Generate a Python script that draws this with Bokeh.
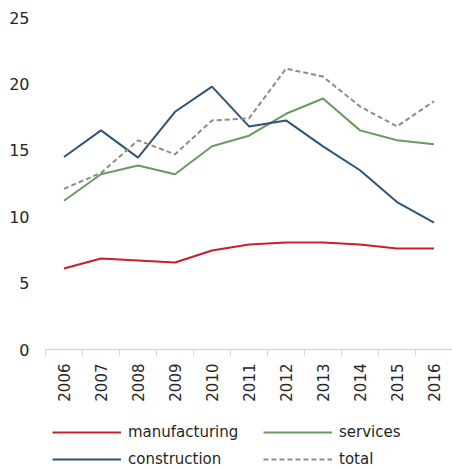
import numpy as np
from bokeh.plotting import figure
from bokeh.layouts import column
from bokeh.models import FixedTicker, Legend, LegendItem, Range1d
from bokeh.embed import file_html
from bokeh.resources import INLINE

years = [2006, 2007, 2008, 2009, 2010, 2011, 2012, 2013, 2014, 2015, 2016]
manufacturing = [6.1, 6.85, 6.7, 6.55, 7.45, 7.9, 8.05, 8.05, 7.9, 7.6, 7.6]
services = [11.2, 13.2, 13.85, 13.2, 15.3, 16.1, 17.75, 18.9, 16.5, 15.75, 15.45]
construction = [14.5, 16.5, 14.45, 17.9, 19.8, 16.8, 17.25, 15.3, 13.5, 11.1, 9.55]
total = [12.1, 13.3, 15.75, 14.7, 17.25, 17.4, 21.15, 20.55, 18.3, 16.8, 18.7]
y_ticks = [0, 5, 10, 15, 20, 25]

FONT = "DejaVu Sans"
TEXT = "#262626"
series = {
    "manufacturing": manufacturing,
    "services": services,
    "construction": construction,
    "total": total,
}
styles = {
    "manufacturing": dict(line_color="#C8202B", line_width=2),
    "services": dict(line_color="#6B9A5E", line_width=2),
    "construction": dict(line_color="#2F5477", line_width=2),
    "total": dict(line_color="#8E8C7E", line_width=2, line_dash="5 3"),
}

p = figure(width=452, height=408, output_backend="svg", toolbar_location=None,
           x_range=Range1d(years[0] - 0.5, years[-1] + 0.5),
           y_range=Range1d(0, 25),
           min_border_left=45, min_border_right=0, min_border_top=17,
           min_border_bottom=59)
p.outline_line_color = None
p.xgrid.visible = False
p.ygrid.visible = False

for name in ["manufacturing", "services", "construction", "total"]:
    p.line(years, series[name], **styles[name])

# y axis: labels only
p.yaxis.ticker = FixedTicker(ticks=y_ticks)
p.yaxis.axis_line_color = None
p.yaxis.major_tick_line_color = None
p.yaxis.major_tick_out = 0
p.yaxis.minor_tick_line_color = None
p.yaxis.major_label_standoff = 16
p.yaxis.major_label_text_font = FONT
p.yaxis.major_label_text_font_size = "16px"
p.yaxis.major_label_text_color = TEXT

# x axis: labels at years, tick marks between categories
bounds = [y - 0.5 for y in years] + [years[-1] + 0.5]
p.xaxis.ticker = FixedTicker(ticks=years, minor_ticks=bounds)
p.xaxis.major_label_overrides = {y: str(y) for y in years}
p.xaxis.major_label_orientation = np.pi / 2
p.xaxis.axis_line_color = "#D9D9D9"
p.xaxis.axis_line_width = 1.5
p.xaxis.major_tick_line_color = None
p.xaxis.major_tick_out = 0
p.xaxis.minor_tick_line_color = "#D9D9D9"
p.xaxis.minor_tick_out = 7
p.xaxis.minor_tick_in = 0
p.xaxis.major_label_standoff = 7
p.xaxis.major_label_text_font = FONT
p.xaxis.major_label_text_font_size = "15px"
p.xaxis.major_label_text_color = TEXT

# legend lives in its own strip under the chart; its lines sit outside the view
leg = figure(width=452, height=62, output_backend="svg", toolbar_location=None,
             x_axis_location=None, y_axis_location=None, min_border=0,
             x_range=Range1d(0, 1), y_range=Range1d(0, 1))
leg.outline_line_color = None
leg.grid.visible = False
# order fills column by column
names = ["manufacturing", "construction", "services", "total"]
items = [LegendItem(label=n, renderers=[leg.line(years, series[n], **styles[n])])
         for n in names]

legend = Legend(items=items, ncols=2, location=(7, 1))
legend.border_line_color = None
legend.background_fill_alpha = 0
legend.label_text_font = FONT
legend.label_text_font_size = "15px"
legend.label_text_color = TEXT
legend.glyph_width = 69
legend.glyph_height = 20
legend.label_height = 20
legend.label_width = 128
legend.label_standoff = 7
legend.spacing = 7
legend.padding = 0
legend.margin = 0
leg.add_layout(legend)

open("out.html", "w").write(file_html(column(p, leg, spacing=0), INLINE))
